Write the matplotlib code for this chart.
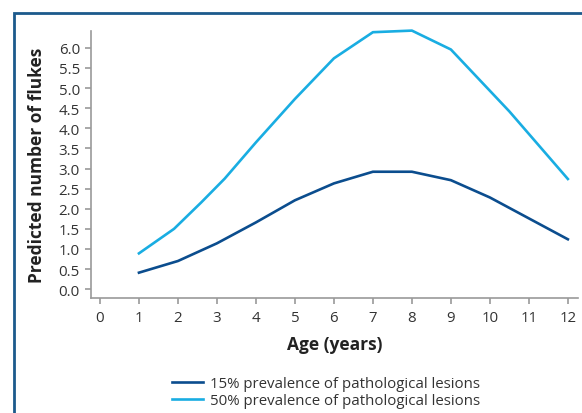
#!/usr/bin/env python3
# -*- coding: utf-8 -*-
"""
Predicted number of flukes by age
"""

import matplotlib
matplotlib.use('Agg')
import matplotlib.pyplot as plt
from matplotlib.patches import Rectangle

# Data
age_15 = [1, 2, 3, 4, 5, 6, 7, 8, 9, 10, 12]
flukes_15 = [0.41, 0.70, 1.14, 1.66, 2.21, 2.63, 2.92, 2.92, 2.71, 2.28, 1.24]

age_50 = [1, 1.9, 2.6, 3.2, 4, 5, 6, 7, 8, 9, 10.5, 12]
flukes_50 = [0.89, 1.50, 2.16, 2.75, 3.65, 4.73, 5.74, 6.39, 6.43, 5.96, 4.42, 2.74]

labels = ['15% prevalence of pathological lesions',
          '50% prevalence of pathological lesions']
x_ticks = list(range(0, 13))
y_ticks = [i * 0.5 for i in range(0, 13)]

plt.rcParams['font.family'] = ['Open Sans', 'DejaVu Sans']

W, H = 582, 414
fig = plt.figure(figsize=(W / 100, H / 100), dpi=100)
ax = fig.add_axes([91 / W, 1 - 299 / H, (578 - 91) / W, (299 - 32) / H])

# Outer frame
fig.patches.append(Rectangle((14 / W, -0.2), 1.2, 1 - 14 / H + 0.2,
                             transform=fig.transFigure, fill=False,
                             edgecolor='#1c5a8c', linewidth=2))

ax.plot(age_15, flukes_15, color='#0b4d8e', linewidth=1.9, label=labels[0], clip_on=False)
ax.plot(age_50, flukes_50, color='#19ade2', linewidth=1.9, label=labels[1], clip_on=False)

ax.set_xlim(-0.23, 12.26)
ax.set_ylim(-0.22, 6.42)
ax.set_xticks(x_ticks)
ax.set_yticks(y_ticks)
ax.set_yticklabels([f'{v:.1f}' for v in y_ticks])

for side in ['top', 'right']:
    ax.spines[side].set_visible(False)
for side in ['left', 'bottom']:
    ax.spines[side].set_color('#9a9a9a')
    ax.spines[side].set_linewidth(1.2)

ax.tick_params(axis='both', colors='#9a9a9a', labelcolor='#333333',
               labelsize=10.8, width=1.2, length=4)
ax.tick_params(axis='x', pad=5)
ax.tick_params(axis='y', pad=4)

ax.set_xlabel('Age (years)', fontsize=12.5, fontweight='bold', color='#222222', labelpad=7)
ax.set_ylabel('Predicted number of flukes', fontsize=12.5, fontweight='bold',
              color='#222222', labelpad=9)

fig.legend(loc='upper left', bbox_to_anchor=(158 / W, 1 - 364 / H), frameon=False,
           fontsize=10.8, handlelength=2.1, labelspacing=0.1, handletextpad=0.5,
           labelcolor='#333333')

plt.savefig('out.png', dpi=100)
plt.close()
